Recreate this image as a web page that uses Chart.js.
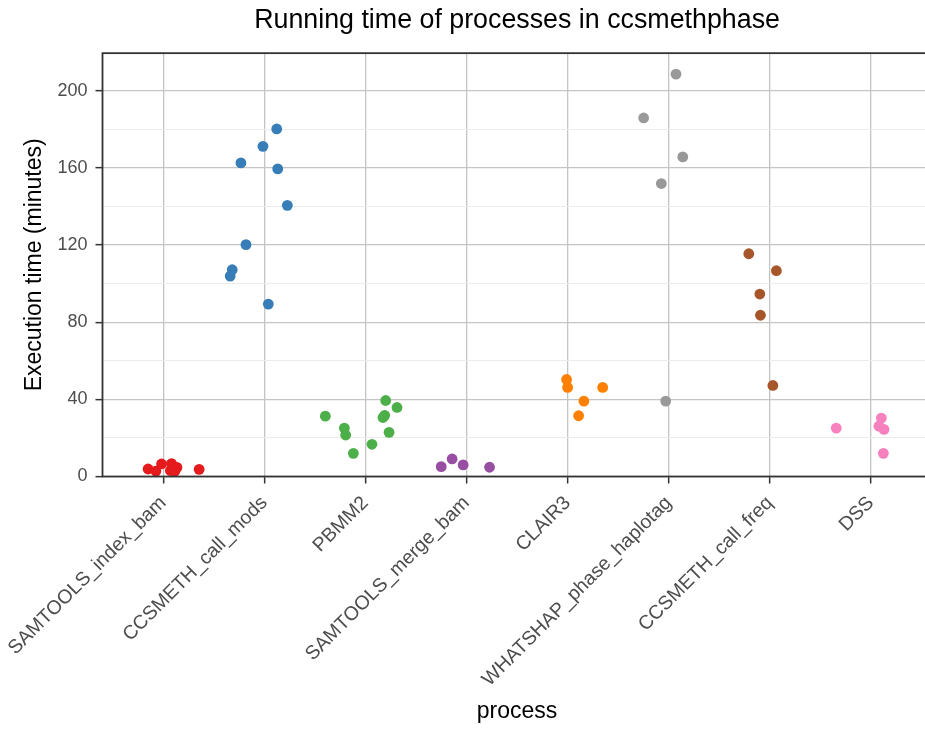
<!DOCTYPE html>
<html>
<head>
<meta charset="utf-8">
<title>Running time of processes in ccsmethphase</title>
<script src="https://cdn.jsdelivr.net/npm/chart.js@4.4.1/dist/chart.umd.min.js"></script>
<style>
  html, body { margin: 0; padding: 0; background: #fff; overflow: hidden; }
  #chart { display: block; }
</style>
</head>
<body>
<canvas id="chart" width="937" height="731"></canvas>
<script>
// categories (x axis) and their point colours
const processes = ['SAMTOOLS_index_bam', 'CCSMETH_call_mods', 'PBMM2', 'SAMTOOLS_merge_bam',
                   'CLAIR3', 'WHATSHAP_phase_haplotag', 'CCSMETH_call_freq', 'DSS'];
const pointColors = ['#E41A1C', '#377EB8', '#4DAF4A', '#984EA3', '#FF7F00', '#999999', '#A65628', '#F781BF'];

// execution time in minutes, one array per process
const samtoolsIndexBam = [3.9, 2.8, 6.5, 6.7, 4.7, 3.1, 2.8, 3.7];
const ccsmethCallMods = [180.2, 171.2, 162.6, 159.5, 140.6, 120.2, 107.2, 103.9, 89.4];
const pbmm2 = [39.4, 35.8, 31.7, 30.6, 31.3, 25.1, 21.5, 22.9, 16.7, 12.0];
const samtoolsMergeBam = [5.1, 9.1, 6.0, 4.8];
const clair3 = [50.3, 46.2, 46.2, 39.1, 31.5];
const whatshapPhaseHaplotag = [208.6, 185.9, 165.7, 151.9, 39.1];
const ccsmethCallFreq = [115.5, 106.7, 94.6, 83.6, 47.2];
const dss = [25.1, 30.3, 26.1, 24.4, 12.0];

// horizontal jitter of each point (fraction of a category slot)
const samtoolsIndexBamJitter = [-0.149, -0.072, -0.016, 0.083, 0.136, 0.071, 0.116, 0.356];
const ccsmethCallModsJitter = [0.123, -0.013, -0.231, 0.133, 0.228, -0.181, -0.317, -0.337, 0.04];
const pbmm2Jitter = [0.201, 0.313, 0.191, 0.174, -0.396, -0.208, -0.195, 0.234, 0.065, -0.119];
const samtoolsMergeBamJitter = [-0.25, -0.142, -0.033, 0.228];
const clair3Jitter = [-0.01, 0, 0.347, 0.161, 0.109];
const whatshapPhaseHaplotagJitter = [0.072, -0.248, 0.139, -0.073, -0.03];
const ccsmethCallFreqJitter = [-0.208, 0.065, -0.099, -0.093, 0.03];
const dssJitter = [-0.343, 0.103, 0.079, 0.129, 0.123];

// y axis ticks
const yTickLabels = [0, 40, 80, 120, 160, 200];
const yMinorTicks = [20, 60, 100, 140, 180];

const times = [samtoolsIndexBam, ccsmethCallMods, pbmm2, samtoolsMergeBam,
               clair3, whatshapPhaseHaplotag, ccsmethCallFreq, dss];
const jitters = [samtoolsIndexBamJitter, ccsmethCallModsJitter, pbmm2Jitter, samtoolsMergeBamJitter,
                 clair3Jitter, whatshapPhaseHaplotagJitter, ccsmethCallFreqJitter, dssJitter];

Chart.defaults.font.family = '"Liberation Sans", Arial, sans-serif';

const datasets = processes.map((name, i) => ({
    label: name,
    data: times[i].map((t, k) => ({ x: i + jitters[i][k], y: t })),
    backgroundColor: pointColors[i],
    borderWidth: 0,
    pointRadius: 5.4,
    pointHoverRadius: 5.4,
    clip: false
}));

// dark frame round the panel
const panelBorder = {
    id: 'panelBorder',
    afterDatasetsDraw(chart) {
        const a = chart.chartArea;
        const ctx = chart.ctx;
        ctx.save();
        ctx.strokeStyle = '#333333';
        ctx.lineWidth = 1.8;
        ctx.strokeRect(a.left, a.top, a.right - a.left, a.bottom - a.top);
        ctx.restore();
    }
};

const isMajor = v => yTickLabels.includes(v);

new Chart(document.getElementById('chart'), {
    type: 'scatter',
    data: { datasets: datasets },
    options: {
        responsive: false,
        animation: false,
        devicePixelRatio: 1,
        layout: { padding: { left: 0, right: 3, top: 0, bottom: 0 } },
        plugins: {
            legend: { display: false },
            tooltip: { enabled: false },
            title: {
                display: true,
                text: 'Running time of processes in ccsmethphase',
                fullSize: false,
                color: '#000000',
                font: { size: 26.8, weight: 'normal' },
                padding: { top: 5, bottom: 16 }
            }
        },
        scales: {
            x: {
                type: 'linear',
                min: -0.6,
                max: 7.6,
                afterBuildTicks: s => { s.ticks = processes.map((p, i) => ({ value: i })); },
                afterFit: s => { s.height = 731 - 476.5; },
                ticks: {
                    callback: v => processes[v],
                    autoSkip: false,
                    minRotation: 45,
                    maxRotation: 45,
                    color: '#4D4D4D',
                    // taller line box pushes the rotated labels a little down-right, as in the reference
                    font: { size: 19.5, lineHeight: 1.8 },
                    padding: 4
                },
                grid: { color: '#C4C4C4', lineWidth: 1.3, tickColor: '#333333', tickLength: 7, tickWidth: 1.5 },
                border: { display: false },
                title: {
                    display: true,
                    text: 'process',
                    color: '#000000',
                    font: { size: 23 },
                    padding: { top: 0, bottom: 6 }
                }
            },
            y: {
                min: 0,
                max: 219.5,
                afterBuildTicks: s => {
                    s.ticks = yTickLabels.concat(yMinorTicks).sort((a, b) => a - b).map(v => ({ value: v }));
                },
                afterFit: s => { s.width = 102.5; },
                ticks: {
                    callback: v => isMajor(v) ? String(v) : '',
                    autoSkip: false,
                    color: '#4D4D4D',
                    font: { size: 18 },
                    padding: 8
                },
                grid: {
                    color: c => isMajor(c.tick.value) ? '#C4C4C4' : '#EBEBEB',
                    lineWidth: c => isMajor(c.tick.value) ? 1.3 : 1,
                    tickColor: c => isMajor(c.tick.value) ? '#333333' : 'rgba(0,0,0,0)',
                    tickLength: 7,
                    tickWidth: 1.5
                },
                border: { display: false },
                title: {
                    display: true,
                    text: 'Execution time (minutes)',
                    color: '#000000',
                    font: { size: 23 },
                    padding: { top: 21, bottom: 0 }
                }
            }
        }
    },
    plugins: [panelBorder]
});
</script>
</body>
</html>
